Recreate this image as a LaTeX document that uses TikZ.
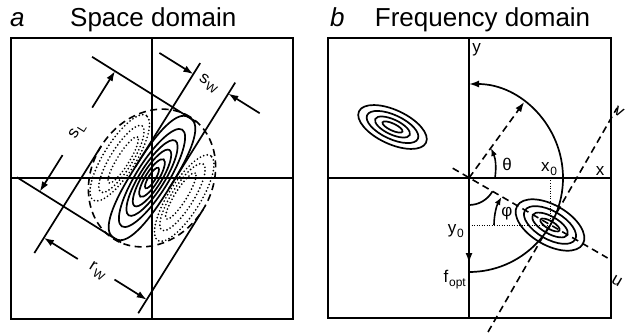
\documentclass[tikz,border=0pt]{standalone}
\usepackage{fontspec}
\setmainfont{Liberation Sans}
\usetikzlibrary{arrows.meta}
\newcommand{\sbx}[1]{\kern0.8pt\raisebox{-4pt}{\fontsize{12pt}{12pt}\selectfont #1}}
\begin{document}
\begin{tikzpicture}[x=1pt,y=1pt,
  frame/.style={line width=1.8pt},
  cont/.style={line width=1.7pt},
  dashc/.style={line width=1.6pt, dash pattern=on 7pt off 4.5pt},
  dotc/.style={line width=1.9pt, dash pattern=on 0pt off 3.6pt, line cap=round},
  finedots/.style={line width=0.9pt, dash pattern=on 1pt off 1.5pt},
  arr/.style={line width=1.7pt, -{Latex[length=10pt,width=7pt]}},
  smallarr/.style={line width=1.6pt, -{Latex[length=8pt,width=6pt]}},
  lab/.style={font=\fontsize{17pt}{17pt}\selectfont, inner sep=0pt},
  ttl/.style={font=\fontsize{26pt}{26pt}\selectfont, inner sep=0pt, anchor=base west}]
\useasboundingbox (0,0) rectangle (626,335);
\node[ttl] (ta) at (10,308.5) {\itshape a};
\node[ttl] (tsa) at (70,308.5) {Space domain};
\node[ttl] (tb) at (330,308.5) {\itshape b};
\node[ttl] (tfa) at (374.7,308.5) {Frequency domain};

% ---------- left panel: space domain ----------
\begin{scope}[shift={(152,157)}]
  \draw[frame] (-141,-141) rectangle (141,140);
  \draw[frame] (0,-141) -- (0,140);
  \draw[frame] (-141,0) -- (141,0);
  \begin{scope}[rotate=58]
    \draw[dashc] (0,0) ellipse [x radius=72, y radius=60];
    \foreach \s in {1,-1}{
      \draw[dotc] (0,\s*38) ellipse [x radius=50, y radius=16];
      \draw[dotc] (0,\s*36) ellipse [x radius=39, y radius=11];
      \draw[dotc] (0,\s*34) ellipse [x radius=27, y radius=6];
    }
    \draw[cont] plot[domain=2.5:362.5, samples=73, variable=\t]
      ({71*cos(\t)*abs(cos(\t))^(-0.2)}, {20*sin(\t)*abs(sin(\t))^(-0.2)}) -- cycle;
    \draw[cont] (0,0) ellipse [x radius=57, y radius=16];
    \draw[cont] (0,0) ellipse [x radius=44, y radius=12.5];
    \draw[cont] (0,0) ellipse [x radius=33, y radius=9.5];
    \draw[cont] (0,0) ellipse [x radius=22, y radius=6.5];
    \draw[cont] (0,0) ellipse [x radius=12, y radius=3.5];
    % s_L lines
    \draw[cont] (71,-8) -- (71,115);
    \draw[cont] (-71,-8) -- (-71,115);
    % s_W lines
    \draw[cont] (0,20) -- (123,20);
    \draw[cont] (0,-20) -- (125,-20);
    % r_W lines
    \draw[cont] (0,60) -- (-126,60);
    \draw[cont] (0,-60) -- (-122,-60);
    % arrows
    \draw[arr] (28,88) -- (71,88);
    \draw[arr] (-28,88) -- (-71,88);
    \draw[arr] (110,60) -- (110,20);
    \draw[arr] (112,-57) -- (112,-20);
    \draw[arr] (-108,20) -- (-108,60);
    \draw[arr] (-106,-22) -- (-106,-60);
    \node[lab, rotate=58] (sl) at (0,88) {s\sbx{L}};
    \node[lab, rotate=-32] (sw) at (110,2) {s\sbx{W}};
    \node[lab, rotate=-32] (rw) at (-108,-3) {r\sbx{W}};
  \end{scope}
\end{scope}

% ---------- right panel: frequency domain ----------
\begin{scope}[shift={(469,157)}]
  \draw[frame] (-141,-140) rectangle (142,140);
  \draw[frame] (0,-140) -- (0,140);
  \draw[frame] (-141,0) -- (142,0);
  \coordinate (O) at (0,0);
  \coordinate (E) at (81,-47);
  % u and v axes
  \draw[dashc] (149:19) -- (-30:160);
  \draw[dashc] (19,-154) -- (148,70);
  % dotted projections
  \draw[finedots] (81,0) -- (E);
  \draw[finedots] (0,-47) -- (E);
  % big arc
  \draw[cont, -{Latex[length=10pt,width=7pt]}] (0,-94) arc[start angle=-90, end angle=90, radius=94];
  \draw[arr] (0,-70) -- (0,-85);
  \draw[dashc, -{Latex[length=10pt,width=7pt]}] (O) -- (54:94);
  % theta arrow
  \draw[smallarr] (26,0) to[bend right=15] (22,30);
  % small arc
  \draw[cont] (0,-27) arc[start angle=-90, end angle=-30, radius=27];
  % phi arrow
  \draw[smallarr] (25,-47) arc[start angle=180, end angle=150, radius=56];
  % contours at (x0,y0)
  \begin{scope}[shift={(E)}, rotate=-30]
    \draw[cont] (0,0) ellipse [x radius=38, y radius=20];
    \draw[cont] (0,0) ellipse [x radius=29, y radius=14];
    \draw[cont] (0,0) ellipse [x radius=20, y radius=8.5];
    \draw[cont] (0,0) ellipse [x radius=11, y radius=4];
  \end{scope}
  \begin{scope}[shift={(-76.5,51)}, rotate=-25]
    \draw[cont] (0,0) ellipse [x radius=37, y radius=17];
    \draw[cont] (0,0) ellipse [x radius=28, y radius=12];
    \draw[cont] (0,0) ellipse [x radius=19, y radius=7.5];
    \draw[cont] (0,0) ellipse [x radius=11, y radius=3.5];
  \end{scope}
  % labels
  \node[lab, anchor=base] (x0) at (80,7) {x\sbx{0}};
  \node[lab, anchor=base] (xl) at (131,3) {x};
  \node[lab, anchor=base] (yl) at (7.5,125) {y};
  \node[lab, anchor=base east] (y0) at (-5,-55) {y\sbx{0}};
  \node[lab, anchor=base east] (fo) at (-3,-104) {f\sbx{opt}};
  \node[lab] (th) at (38,14) {θ};
  \node[lab] (ph) at (38,-36) {φ};
  \node[lab, rotate=-30] (vl) at (150,66) {v};
  \node[lab, rotate=-30] (ul) at (148,-103) {u};
\end{scope}
\end{tikzpicture}
\end{document}
